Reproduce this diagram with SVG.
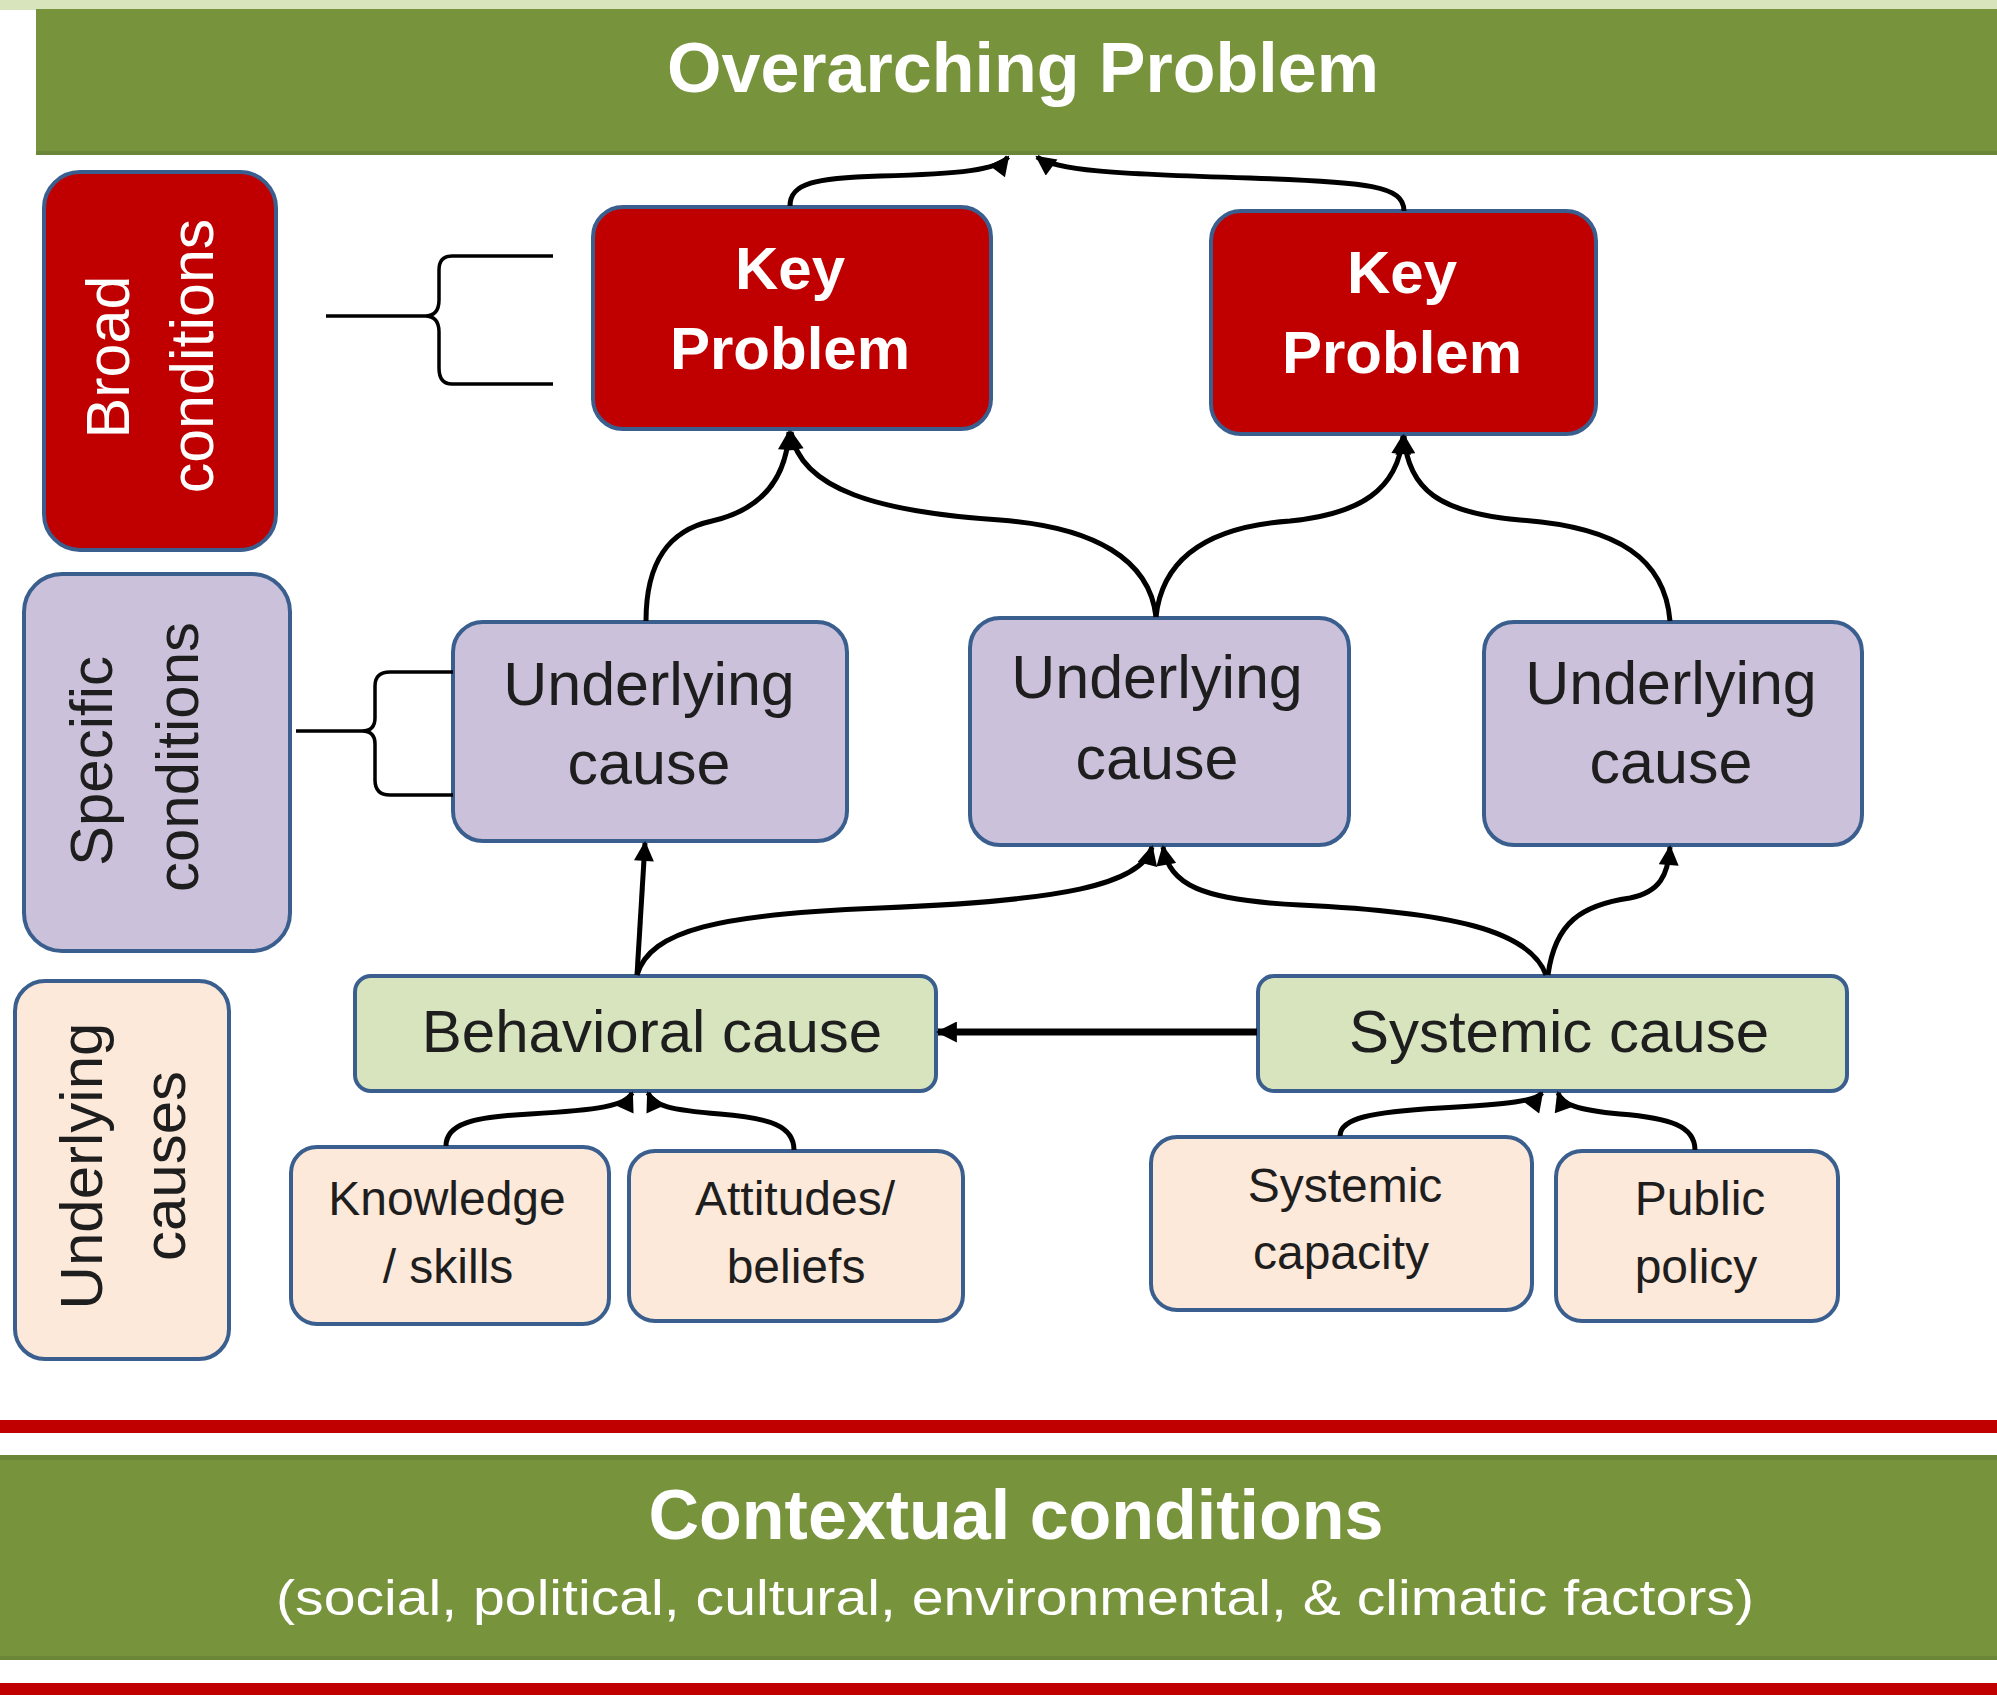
<svg xmlns="http://www.w3.org/2000/svg" width="1997" height="1695" viewBox="0 0 1997 1695">
<defs>
<style>
.box{stroke:#3a5f8f;stroke-width:4}
.red{fill:#c00000}
.lav{fill:#ccc1da}
.grn{fill:#d7e4bd}
.pch{fill:#fde9d9}
.wb{font-family:"Liberation Sans",Arial,sans-serif;font-weight:bold;fill:#ffffff;text-anchor:middle}
.wt{font-family:"Liberation Sans",Arial,sans-serif;fill:#ffffff;text-anchor:middle}
.dk{font-family:"Liberation Sans",Arial,sans-serif;fill:#1e1e1e;text-anchor:middle}
.con{fill:none;stroke:#000;stroke-width:5;marker-end:url(#ah)}
.br{fill:none;stroke:#000;stroke-width:3.5}
</style>
<marker id="ah" viewBox="0 0 10 10" refX="9" refY="5" markerWidth="4.2" markerHeight="4" orient="auto" markerUnits="strokeWidth">
<path d="M0,0 L10,5 L0,10 z" fill="#000"/>
</marker>
<marker id="ah2" viewBox="0 0 10 10" refX="9" refY="5" markerWidth="3" markerHeight="3" orient="auto" markerUnits="strokeWidth">
<path d="M0,0 L10,5 L0,10 z" fill="#000"/>
</marker>
</defs>
<rect width="1997" height="1695" fill="#ffffff"/>

<!-- top banner -->
<g id="overarching">
<rect x="0" y="0" width="1997" height="10" fill="#d8e4bc"/>
<rect x="36" y="9" width="1961" height="146" fill="#77933c"/>
<rect x="36" y="151" width="1961" height="4" fill="#6b8638"/>
<text class="wb" x="1023" y="92" font-size="70">Overarching Problem</text>
</g>

<!-- side labels -->
<g id="broad-conditions">
<rect class="box red" x="44" y="172" width="232" height="378" rx="36"/>
<text class="wt" font-size="61" transform="translate(129,357) rotate(-90)">Broad</text>
<text class="wt" font-size="61" transform="translate(213,356) rotate(-90)">conditions</text>
</g>
<g id="specific-conditions">
<rect class="box lav" x="24" y="574" width="266" height="377" rx="38"/>
<text class="dk" font-size="60" transform="translate(112,761) rotate(-90)">Specific</text>
<text class="dk" font-size="60" transform="translate(198,757) rotate(-90)">conditions</text>
</g>
<g id="underlying-causes">
<rect class="box pch" x="15" y="981" width="214" height="378" rx="30"/>
<text class="dk" font-size="60" transform="translate(102,1166) rotate(-90)">Underlying</text>
<text class="dk" font-size="60" transform="translate(185,1166) rotate(-90)">causes</text>
</g>

<!-- key problems -->
<g id="key-problem-1">
<rect class="box red" x="593" y="207" width="398" height="222" rx="30"/>
<text class="wb" x="790" y="289" font-size="60">Key</text>
<text class="wb" x="790" y="369" font-size="60">Problem</text>
</g>
<g id="key-problem-2">
<rect class="box red" x="1211" y="211" width="385" height="223" rx="30"/>
<text class="wb" x="1402" y="293" font-size="60">Key</text>
<text class="wb" x="1402" y="373" font-size="60">Problem</text>
</g>

<!-- underlying causes -->
<g id="underlying-cause-1">
<rect class="box lav" x="453" y="622" width="394" height="219" rx="30"/>
<text class="dk" x="649" y="705" font-size="61">Underlying</text>
<text class="dk" x="649" y="784" font-size="61">cause</text>
</g>
<g id="underlying-cause-2">
<rect class="box lav" x="970" y="618" width="379" height="227" rx="30"/>
<text class="dk" x="1157" y="698" font-size="61">Underlying</text>
<text class="dk" x="1157" y="779" font-size="61">cause</text>
</g>
<g id="underlying-cause-3">
<rect class="box lav" x="1484" y="622" width="378" height="223" rx="30"/>
<text class="dk" x="1671" y="704" font-size="61">Underlying</text>
<text class="dk" x="1671" y="783" font-size="61">cause</text>
</g>

<!-- behavioral / systemic -->
<g id="behavioral-cause">
<rect class="box grn" x="355" y="976" width="581" height="115" rx="16"/>
<text class="dk" x="652" y="1052" font-size="60">Behavioral cause</text>
</g>
<g id="systemic-cause">
<rect class="box grn" x="1258" y="976" width="589" height="115" rx="16"/>
<text class="dk" x="1559" y="1052" font-size="60">Systemic cause</text>
</g>

<!-- bottom factors -->
<g id="knowledge-skills">
<rect class="box pch" x="291" y="1147" width="318" height="177" rx="26"/>
<text class="dk" x="447" y="1215" font-size="48">Knowledge</text>
<text class="dk" x="448" y="1283" font-size="48">/ skills</text>
</g>
<g id="attitudes-beliefs">
<rect class="box pch" x="629" y="1151" width="334" height="170" rx="26"/>
<text class="dk" x="795" y="1215" font-size="48">Attitudes/</text>
<text class="dk" x="796" y="1283" font-size="48">beliefs</text>
</g>
<g id="systemic-capacity">
<rect class="box pch" x="1151" y="1137" width="381" height="173" rx="26"/>
<text class="dk" x="1345" y="1202" font-size="48">Systemic</text>
<text class="dk" x="1341" y="1269" font-size="48">capacity</text>
</g>
<g id="public-policy">
<rect class="box pch" x="1556" y="1151" width="282" height="170" rx="26"/>
<text class="dk" x="1700" y="1215" font-size="48">Public</text>
<text class="dk" x="1696" y="1283" font-size="48">policy</text>
</g>

<!-- contextual band -->
<g id="contextual">
<rect x="0" y="1420" width="1997" height="13" fill="#c00000"/>
<rect x="0" y="1455" width="1997" height="205" fill="#77933c"/>
<rect x="0" y="1455" width="1997" height="5" fill="#6b8638"/>
<rect x="0" y="1656" width="1997" height="4" fill="#6b8638"/>
<rect x="0" y="1683" width="1997" height="12" fill="#c00000"/>
<text class="wb" x="1016" y="1539" font-size="70">Contextual conditions</text>
<text class="wt" x="1015" y="1615" font-size="50" textLength="1478" lengthAdjust="spacingAndGlyphs">(social, political, cultural, environmental, &amp; climatic factors)</text>
</g>

<!-- connectors -->
<g id="connectors">
<path class="br" d="M326,316 L425,316 Q439,316 439,300 L439,270 Q439,256 452,256 L553,256 M425,316 Q439,316 439,332 L439,368 Q439,384 452,384 L553,384"/>
<path class="br" d="M296,731 L362,731 Q375,731 375,718 L375,686 Q375,672 390,672 L453,672 M362,731 Q375,731 375,744 L375,780 Q375,795 390,795 L453,795"/>
<path class="con" d="M790,206 C790,183 815,178 880,176 C960,174 998,170 1008,157"/>
<path class="con" d="M1404,211 C1404,186 1370,182 1250,178 C1110,174 1055,170 1037,157"/>
<path class="con" d="M646,621 C646,560 670,530 712,521 C760,510 786,480 789,432"/>
<path class="con" d="M1156,617 C1150,560 1095,527 1000,520 C880,512 800,490 791,432"/>
<path class="con" d="M1156,617 C1162,560 1205,527 1290,521 C1360,514 1398,490 1403,436"/>
<path class="con" d="M1670,621 C1665,560 1620,527 1520,520 C1440,513 1408,490 1404,436"/>
<path class="con" d="M637,975 L645,843"/>
<path class="con" d="M637,975 C650,930 720,914 880,908 C1060,901 1142,885 1152,847"/>
<path class="con" d="M1546,975 C1530,930 1450,912 1300,905 C1200,900 1170,885 1163,847"/>
<path class="con" d="M1548,975 C1555,922 1582,905 1630,898 C1660,892 1668,875 1670,847"/>
<path class="con" d="M446,1146 C446,1124 472,1117 530,1114 C598,1110 626,1106 632,1093"/>
<path class="con" d="M794,1150 C794,1126 770,1118 720,1114 C670,1110 654,1106 648,1093"/>
<path class="con" d="M1340,1136 C1340,1118 1372,1112 1440,1108 C1510,1104 1536,1101 1542,1093"/>
<path class="con" d="M1695,1150 C1695,1126 1670,1118 1620,1114 C1576,1110 1562,1104 1558,1093"/>
<path d="M1257,1032 L938,1032" fill="none" stroke="#000" stroke-width="7" marker-end="url(#ah2)"/>
</g>
</svg>
